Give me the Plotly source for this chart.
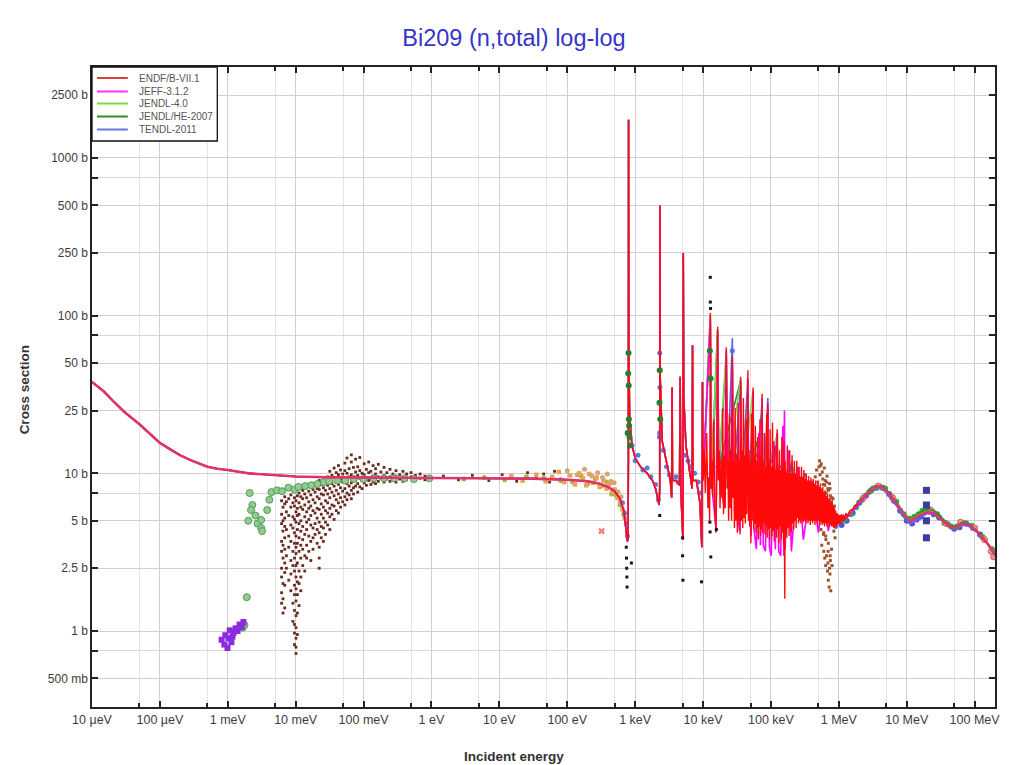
import plotly.graph_objects as go

# ---------------- axis ticks ----------------
x_tick_vals = [1e-5, 1e-4, 1e-3, 1e-2, 1e-1, 1, 10, 100, 1e3, 1e4, 1e5, 1e6, 1e7, 1e8]
x_tick_text = ["10 µeV", "100 µeV", "1 meV", "10 meV", "100 meV", "1 eV", "10 eV",
               "100 eV", "1 keV", "10 keV", "100 keV", "1 MeV", "10 MeV", "100 MeV"]
x_minor_vals = [5e-5, 5e-4, 5e-3, 5e-2, 0.5, 5, 50, 500, 5e3, 5e4, 5e5, 5e6, 5e7]
y_tick_vals = [2500, 1000, 500, 250, 100, 50, 25, 10, 5, 2.5, 1, 0.5]
y_tick_text = ["2500 b", "1000 b", "500 b", "250 b", "100 b", "50 b", "25 b", "10 b",
               "5 b", "2.5 b", "1 b", "500 mb"]
y_minor_vals = [750, 75, 7.5, 0.75]

# ---------------- evaluated data (eV, barns) ----------------
smooth_E = [1e-5, 1.5e-5, 2e-5, 3e-5, 5e-5, 7e-5, 1e-4, 1.5e-4, 2e-4, 3e-4, 5e-4, 7e-4,
            1e-3, 2e-3, 5e-3, 1e-2, 3e-2, 0.1, 0.3, 1, 3, 10, 30, 100, 200, 300, 400, 500]
smooth_xs = [38, 33, 29, 24.5, 20.5, 18, 15.6, 14.0, 13.0, 12.0, 11.0, 10.7,
             10.5, 10.0, 9.7, 9.55, 9.45, 9.4, 9.38, 9.35, 9.33, 9.3, 9.25, 9.1, 8.9, 8.6, 8.2, 7.7]

res_lo_E = [600, 680, 740, 770, 785, 795, 800, 806, 830, 900, 1000, 1200, 1500, 1800, 2000,
            2150, 2250, 2300, 2320, 2340, 2500, 3000, 3300, 3450, 3500, 3550, 4000, 4500, 4600,
            4700, 4900, 5050, 5110, 5200, 5600, 6300, 6900, 7000, 7100, 8000, 9000, 9600, 9800]
res_lo_xs = [6.9, 5.8, 4.4, 3.7, 3.9, 12, 1750, 60, 22, 15, 12.5, 11, 10, 9, 8,
             7, 6.3, 8, 500, 40, 16, 11, 9, 7, 35, 9, 9, 8.4, 41,
             8, 5.5, 3.8, 250, 30, 15, 10.5, 8, 65, 9, 9, 6.5, 3.4, 38]

endf_hi_E = [10000, 10400, 10800, 11300, 11800, 12200, 12500, 12800, 13100, 13500,
             13900, 14400, 14900, 15500, 16000, 16400, 16800, 17300, 17800, 18400,
             19000, 19500, 20000, 20600, 21200, 22000, 22600, 23200, 23800, 24500,
             25100, 25700, 26300, 27000, 27600, 28300, 29000, 29700, 30400, 31200,
             32000, 32800, 33600, 34400, 35100, 35800, 36600, 37500, 38400, 39300,
             40200, 41100, 42000, 43000, 44000, 44800, 45700, 46600, 47600, 48600,
             49600, 50600, 51700, 52800, 53700, 54600, 55600, 56700, 57800, 59000,
             60200, 61400, 62600, 63800, 65100, 66400, 67700, 69000, 70400, 71800,
             73200, 74000, 75400, 76900, 78400, 80000, 81600, 83200, 84800, 86500,
             88200, 90000, 91800, 93600, 95500, 97400, 99300, 101300, 103300, 105400,
             107500, 109600, 111800, 114000, 116300, 118600, 121000, 123400, 125900, 128400,
             131000, 133600, 136300, 139000, 141800, 144600, 147500, 150500, 153500, 155000,
             158000, 160000, 162000, 165000, 168000, 171000, 174500, 178000, 181500, 185000,
             189000, 192500, 196500, 200500, 204500, 208500, 212500, 217000, 221500, 226000,
             230500, 235000, 240000, 245000, 250000, 255000, 260000, 265000, 270500, 276000,
             281500, 287000, 293000, 299000, 305000, 311000, 317500, 324000, 330500, 337000,
             344000, 351000, 358000, 365000, 372500, 380000, 388000, 396000, 404000, 412000,
             420000, 428000, 437000, 446000, 455000, 464000, 474000, 484000, 494000, 504000,
             514000, 524000, 535000, 546000, 557000, 568000, 580000, 592000, 604000, 616000,
             628000, 641000, 654000, 667000, 680000, 694000, 708000, 722000, 737000, 752000,
             767000, 782000, 798000, 814000, 830000, 847000, 864000, 881000, 899000, 917000,
             935000, 954000, 973000, 993000, 1.02e6, 1.05e6, 1.08e6, 1.12e6, 1.16e6, 1.21e6,
             1.27e6, 1.34e6, 1.45e6, 1.6e6, 1.75e6]
endf_hi_xs = [9, 14, 7.5, 18, 6, 9.5, 5, 104, 8, 12,
              7, 22, 6, 4.2, 11, 85, 9, 14, 6, 12,
              7, 26, 5.5, 13, 6, 63, 8, 12, 5, 24,
              6, 14, 5, 55, 7, 12, 4.5, 26, 5, 13,
              4.2, 28, 5, 12, 4.1, 41, 5, 14, 4.5, 30,
              5.2, 13, 4.8, 22, 5.5, 12, 45, 5, 14, 4.6,
              12, 3.6, 24, 5, 11, 35, 4.4, 13, 4.8, 20,
              4.2, 12, 4.5, 17, 3.8, 11, 4.6, 22, 4.0, 13,
              4.4, 32, 4.2, 12, 4.8, 18, 4.1, 11, 4.6, 24,
              3.9, 28, 4.4, 12, 3.8, 19, 4.5, 11, 4.0, 21,
              4.3, 11, 3.7, 15, 4.5, 10.5, 3.9, 19, 4.4, 11,
              3.6, 14, 4.6, 10.5, 3.8, 17, 4.2, 11, 3.5, 16,
              3.8, 1.6, 12, 4.2, 10, 3.9, 15, 4.5, 10, 4.0,
              14, 4.6, 10, 4.2, 13, 4.8, 10, 4.4, 12, 5.0,
              10, 4.5, 12, 5.2, 9.5, 4.8, 11, 5.0, 9.5, 4.8,
              11, 5.1, 9.5, 4.9, 10.5, 5.0, 9.2, 4.8, 10, 5.1,
              9.0, 4.8, 9.6, 5.0, 9, 4.7, 9.4, 5.0, 8.8, 4.8,
              9.2, 5.0, 8.6, 4.7, 9, 5.0, 8.4, 4.8, 8.8, 5.0,
              8.2, 4.7, 8.6, 4.9, 8, 4.7, 8.2, 4.8, 7.6, 4.6,
              7.8, 4.8, 7.2, 4.6, 7.4, 4.8, 6.8, 4.6, 7.0, 4.7,
              6.5, 4.6, 6.6, 4.6, 6.2, 4.5, 6.0, 4.5, 5.8, 4.6,
              5.6, 4.7, 5.5, 4.8, 5.4, 4.8, 5.5, 4.9, 5.5, 5.0,
              5.6, 5.3, 5.8, 5.9, 6.2]

jeff_hi_E = [10000, 12800, 13200, 15500, 16400, 17000, 20500, 22000, 23000, 26000, 27000, 28000,
             34500, 35800, 37000, 43500, 45700, 47000, 51000, 54600, 56000, 61000, 66000, 70000,
             74000, 77000, 83000, 90000, 95000, 101000, 110000, 116000, 123000, 130000, 139000,
             150000, 155000, 158000, 162000, 180000, 200000, 250000, 300000, 400000, 500000,
             600000, 700000, 800000, 900000, 1.0e6, 1.3e6]
jeff_hi_xs = [9, 95, 9, 4.5, 80, 10, 6, 60, 10, 8, 50, 9,
              4.3, 38, 8, 6, 40, 7, 4.0, 33, 4.5, 3.3, 18, 3.5,
              30, 3.5, 3.2, 26, 3.4, 3.0, 16, 3.3, 18, 3.2, 3.0,
              20, 3.0, 25, 3.3, 14, 3.2, 11, 3.8, 9, 4.2,
              7.5, 4.3, 5.8, 4.6, 5.4, 5.2]

tendl_hi_E = [10000, 12800, 13500, 16400, 17000, 22000, 23000, 27000, 28000, 35800, 37000, 45700,
              47000, 54600, 56000, 74000, 76000, 90000, 92000, 123000, 126000, 205000, 210000,
              320000, 330000, 500000, 520000, 800000, 1.0e6, 1.3e6]
tendl_hi_xs = [9, 90, 9, 75, 10, 55, 9.5, 72, 9, 36, 8, 40,
               7, 30, 6, 28, 6, 30, 5.5, 17, 5.5, 12, 5.5,
               10, 6, 8.5, 5.5, 5.2, 5.3, 5.4]

jendl4_hi_E = [10000, 12800, 13200, 16400, 17000, 22000, 23000, 35800, 37000, 54600, 56500, 125000,
               130000, 320000, 340000, 800000, 1.0e6, 1.3e6]
jendl4_hi_xs = [9, 100, 9, 82, 11, 60, 10, 40, 8, 34, 5, 18,
                5, 9.5, 5.5, 5.1, 5.2, 5.3]

jendlhe_hi_E = [10000, 12800, 13200, 16400, 17000, 35800, 37000, 63000, 66000, 210000, 220000,
                800000, 1.0e6, 1.3e6]
jendlhe_hi_xs = [9, 100, 9, 82, 11, 39, 8, 16, 5, 11, 5.5, 5.2, 5.3, 5.35]

fast_E = [1.9e6, 2.65e6, 3.4e6, 4.3e6, 5.2e6, 7.3e6, 9.5e6, 11.4e6, 14.4e6, 20e6, 25.7e6,
          33.5e6, 42.5e6, 52e6, 66e6, 84e6, 110e6, 154e6, 200e6]
endf_fast_xs = [6.4, 7.5, 8.2, 8.2, 7.6, 6.3, 5.3, 5.0, 5.35, 5.7, 5.6,
                5.0, 4.6, 4.5, 4.8, 4.7, 4.25, 3.6, 3.1]
jeff_fast_xs = [6.35, 7.45, 8.2, 8.25, 7.65, 6.3, 5.3, 4.95, 5.3, 5.65, 5.55,
                5.0, 4.6, 4.5, 4.8, 4.7, 4.25, 3.6, 3.1]
tendl_fast_xs = [6.2, 7.4, 8.1, 8.0, 7.4, 6.1, 5.1, 4.75, 5.15, 5.55, 5.5,
                 4.95, 4.55, 4.4, 4.7, 4.6, 4.2, 3.55, 3.0]
jendlhe_fast_xs = [6.5, 7.6, 8.3, 8.3, 7.75, 6.45, 5.45, 5.15, 5.55, 5.95, 5.8,
                   5.15, 4.7, 4.6, 4.9, 4.75, 4.3, 3.6, 3.05]
jendl4_fast_E = [1.9e6, 2.65e6, 3.4e6, 4.3e6, 5.2e6, 7.3e6, 9.5e6, 11.4e6, 14.4e6, 20e6]
jendl4_fast_xs = [6.4, 7.5, 8.15, 8.15, 7.6, 6.35, 5.35, 5.05, 5.4, 5.75]

# ---------------- experimental data (eV, barns) ----------------
brown_col_E = [6.2e-3, 6.5e-3, 6.9e-3, 7.3e-3, 7.9e-3, 8.5e-3, 9.1e-3, 9.6e-3, 0.0101, 0.0106,
               0.0112, 0.0119, 0.0127, 0.0136, 0.0145, 0.0156, 0.0167, 0.018, 0.0193, 0.0207,
               0.0222, 0.0238, 0.0256, 0.0275, 0.0296, 0.0318, 0.0342, 0.0368, 0.0396, 0.0426,
               0.0458, 0.0493, 0.053, 0.057, 0.0613, 0.066, 0.071, 0.0763, 0.082, 0.088, 0.095,
               0.102, 0.11, 0.119, 0.128, 0.138, 0.15, 0.165, 0.18, 0.2, 0.22, 0.245, 0.27, 0.3,
               0.34, 0.38, 0.43, 0.5, 0.58, 0.68, 0.8,
               1.5, 2.5, 4, 7, 11, 18, 26, 35, 45, 55, 65, 80]
brown_col_xs = [
    [6.7, 5.5, 4.8, 3.7, 3.2, 2.5, 2.2, 1.75, 1.5],
    [6.1, 5.0, 4.3, 3.5, 2.9, 2.0, 1.6, 1.3],
    [7.1, 6.4, 5.2, 4.6, 3.9, 3.3, 2.7, 2.35, 1.95, 1.4],
    [6.6, 5.7, 4.4, 3.0, 2.5],
    [6.9, 5.4, 4.0, 3.4, 2.1],
    [7.3, 6.1, 4.7, 3.7, 2.8, 2.3, 1.8],
    [6.5, 5.3, 4.5, 3.2, 2.6, 1.5, 1.15],
    [7.0, 6.2, 5.1, 4.2, 3.6, 2.9, 2.4, 1.95, 1.7, 1.35, 1.1, 0.97, 0.82],
    [6.7, 5.7, 4.9, 4.0, 3.4, 3.1, 2.6, 2.2, 1.85, 1.55, 1.25, 1.05, 0.9, 0.79, 0.72],
    [7.2, 6.0, 5.4, 4.4, 3.6, 2.7, 2.05, 1.7, 1.3, 0.95],
    [7.5, 6.5, 5.5, 4.8, 3.9, 3.2, 2.4, 2.0, 1.45],
    [7.1, 6.1, 5.0, 4.3, 3.5, 2.9, 2.2, 1.8],
    [7.8, 6.9, 5.9, 4.6, 3.8, 3.3, 2.6],
    [7.4, 6.3, 5.3, 4.1, 3.0, 2.4],
    [8.1, 7.0, 5.7, 4.9, 4.4, 3.5, 2.9],
    [7.7, 6.6, 6.0, 5.1, 4.0, 3.2],
    [8.3, 7.3, 6.2, 5.4, 4.7, 3.7, 2.8],
    [7.9, 6.8, 5.8, 4.5, 3.9, 3.3],
    [8.6, 7.6, 6.5, 5.6, 4.8, 4.1],
    [8.0, 7.1, 6.0, 5.2, 4.4, 3.6],
    [9.0, 7.9, 6.9, 5.9, 4.9, 4.2, 3.4, 2.9, 2.5],
    [8.5, 7.4, 6.4, 5.5, 4.6, 3.9],
    [9.2, 8.1, 7.3, 6.1, 5.2, 4.5, 3.7],
    [8.7, 7.8, 6.7, 5.8, 4.9, 4.1],
    [9.5, 8.4, 7.4, 6.5, 5.6, 4.7],
    [10.3, 9.0, 8.0, 7.0, 6.0, 5.3, 4.4],
    [9.7, 8.6, 7.6, 6.3, 5.5],
    [10.8, 9.4, 8.3, 7.2, 6.2, 5.1],
    [10.1, 8.9, 7.8, 6.8, 5.8],
    [11.2, 9.8, 8.5, 7.4, 6.5, 5.6],
    [10.5, 9.2, 8.1, 7.0, 6.1],
    [9.9, 8.8, 7.7, 6.6],
    [11.6, 10.4, 9.0, 8.0, 7.1, 6.3],
    [12.5, 10.0, 8.6, 7.5, 6.8],
    [10.7, 9.5, 8.3, 7.3],
    [13.1, 11.8, 9.8, 8.7, 7.8, 6.9],
    [10.9, 9.3, 8.1, 7.4],
    [12.3, 10.2, 9.0, 8.3],
    [11.0, 9.7, 8.6, 7.6],
    [12.6, 10.4, 9.3, 8.2],
    [10.0, 9.0, 8.0],
    [11.5, 9.8, 8.7],
    [10.6, 9.4, 8.4],
    [11.8, 10.1, 9.0],
    [10.3, 9.2, 8.5],
    [11.2, 9.6, 8.8],
    [10.7, 9.9, 8.6],
    [11.4, 9.5, 8.9],
    [10.2, 9.3],
    [10.9, 9.7, 8.8],
    [10.1, 9.2],
    [10.6, 9.5, 8.9],
    [9.9, 9.1],
    [10.4, 9.6, 8.8],
    [9.8, 9.2],
    [10.3, 9.4, 8.9],
    [9.9, 9.1],
    [10.1, 9.5],
    [9.7, 9.0],
    [9.9, 9.3],
    [9.6, 9.1],
    [9.6], [9.1], [9.7], [9.0], [9.8], [8.9], [10.1], [9.3], [9.9], [8.8], [10.3], [9.2],
]

green_lo_E = [2.1e-3, 2.3e-3, 2.2e-3, 2.55e-3, 2.0e-3, 2.75e-3, 3.1e-3, 3.1e-3, 3.2e-3, 4.1e-3,
              3.8e-3, 4.4e-3, 5.3e-3, 6.3e-3, 7.8e-3, 9.6e-3, 0.011, 0.0138, 0.017, 0.021, 0.026,
              0.031, 0.041, 0.054, 0.072, 0.1, 0.14, 0.2, 0.28, 0.4, 0.55, 0.93, 1.9e-3, 1.76e-3,
              1.65e-3]
green_lo_xs = [7.5, 6.3, 5.85, 5.4, 5.0, 4.8, 5.06, 4.5, 4.3, 6.8,
               5.85, 7.6, 7.8, 7.7, 8.1, 7.9, 8.2, 8.3, 8.4, 8.55, 8.8,
               8.9, 9.0, 9.0, 9.2, 9.2, 9.3, 9.3, 9.3, 9.3, 9.2, 9.3, 1.64, 1.09,
               1.05]

purple_E = [8.1e-4, 8.9e-4, 9.2e-4, 1.02e-3, 1.07e-3, 1.13e-3, 1.21e-3, 1.3e-3, 1.39e-3,
            1.49e-3, 1.6e-3, 1.7e-3, 9.9e-4, 1.17e-3]
purple_xs = [0.88, 0.82, 0.94, 0.90, 1.01, 0.85, 0.97, 1.04, 1.0, 1.1, 1.06, 1.14, 0.78, 0.92]

orange_E = [15, 22, 35, 48, 60, 75, 90, 110, 130, 150, 170, 190, 210, 240, 270, 300, 340, 380,
            420, 460, 500, 550, 600, 650, 700]
orange_xs = [9.6, 9.0, 9.8, 8.9, 9.5, 10.2, 8.8, 9.7, 8.5, 10.0, 9.3, 8.4, 9.9, 8.7, 9.4, 8.2,
             9.0, 8.0, 8.6, 7.6, 7.9, 7.0, 6.6, 5.9, 5.2]
olive_E = [3, 6, 12, 25, 45, 80, 120, 160, 200, 260, 320, 380, 450, 520, 600, 680]
olive_xs = [9.2, 9.4, 9.1, 9.5, 9.3, 9.0, 8.8, 9.6, 8.6, 9.2, 8.3, 8.8, 7.4, 7.3, 6.3, 5.5]
tan_E = [100, 140, 180, 230, 280, 330, 390, 440, 490, 560, 620]
tan_xs = [10.4, 9.8, 10.6, 9.6, 10.1, 9.4, 9.9, 8.9, 8.7, 7.6, 7.1]
cross_E = [320]
cross_xs = [4.3]

res_blue_E = [650, 700, 740, 770, 900, 1000, 1100, 1300, 1500, 1700, 2000, 2200, 2280, 2290, 2300,
              2310, 2600, 2900, 3200, 4000, 4300, 5500, 6000, 6500, 7500, 8500, 9000, 11000, 14000,
              18000, 21000, 24000, 27000, 30000, 36000, 42000, 50000, 60000, 70000, 85000, 100000,
              130000, 170000, 220000, 300000, 400000, 500000, 700000, 900000]
res_blue_xs = [6.5, 5.6, 4.8, 4.0, 15, 12, 13, 10.5, 10.8, 9.5, 8.5, 6.8, 17, 18, 58,
               35, 14, 11, 9.8, 9.5, 8.8, 13, 12, 11, 10, 8.8, 7.5, 10, 11,
               12, 10, 11, 60, 13, 10, 12, 11, 13, 12, 14, 12,
               11, 10, 9.5, 8, 7, 6.5, 5.5, 4.6]

dkgreen_E = [775, 790, 798, 803, 808, 815, 825, 840, 2280, 2300, 2340, 12600, 12900]
dkgreen_xs = [18, 43, 58, 36, 22, 20, 17, 15, 28, 45, 22, 60, 40]

black_E = [740, 745, 750, 755, 760, 880, 2300, 5000, 5000, 5050, 9500, 12800, 12800, 12900,
           12600, 12700, 13000, 15700]
black_xs = [3.4, 2.9, 2.5, 2.2, 1.9, 2.7, 5.4, 3.9, 3.0, 2.1, 2.05, 175, 122, 111, 4.9, 4.25,
            2.95, 4.4]

brown_hi_E = [450e3, 470e3, 490e3, 510e3, 530e3, 550e3, 570e3, 590e3, 610e3, 630e3, 650e3, 670e3,
              690e3, 710e3, 730e3, 750e3, 770e3, 790e3, 810e3, 830e3, 850e3, 870e3, 900e3, 560e3,
              600e3, 620e3, 640e3, 660e3, 680e3, 700e3, 720e3, 740e3, 760e3, 640e3, 700e3, 750e3,
              780e3, 600e3, 520e3, 540e3, 580e3, 620e3, 660e3, 700e3, 740e3, 780e3, 820e3, 860e3,
              500e3, 545e3, 595e3, 645e3, 695e3, 745e3, 795e3, 845e3, 880e3, 690e3, 730e3]
brown_hi_xs = [9.5, 10.5, 8.8, 11.0, 9.8, 11.5, 10.2, 8.5, 10.8, 9.0, 7.5, 9.6,
               8.0, 6.8, 8.6, 7.2, 6.2, 7.0, 5.6, 6.0, 5.2, 5.5, 4.8, 3.5,
               3.2, 2.9, 2.6, 3.0, 2.4, 2.1, 1.9, 2.3, 1.8, 4.0, 3.6, 2.8,
               3.3, 4.2, 12.0, 11.2, 9.2, 8.4, 8.8, 7.8, 8.0, 6.6, 6.9, 6.2,
               4.6, 4.4, 4.1, 3.8, 3.2, 3.0, 2.6, 4.3, 3.9, 2.7, 2.5]

fast_blue_E = [1.1e6, 1.3e6, 1.6e6, 2.0e6, 2.5e6, 3.0e6, 3.6e6, 4.4e6, 5.5e6, 6.5e6, 8.0e6, 10e6,
               12e6, 14e6, 16e6, 25e6, 30e6, 40e6, 50e6, 60e6, 75e6, 95e6, 120e6]
fast_blue_xs = [4.7, 5.0, 5.6, 6.5, 7.2, 7.8, 8.1, 8.1, 7.4, 6.7, 5.8, 5.0,
                4.8, 5.1, 5.3, 5.5, 5.25, 4.75, 4.45, 4.55, 4.8, 4.5, 4.1]
fast_green_E = [1.2e6, 1.5e6, 1.8e6, 2.2e6, 2.8e6, 3.2e6, 3.9e6, 4.8e6, 6.0e6, 7.0e6, 9.0e6, 11e6,
                13e6, 15e6, 17e6, 19e6, 22e6, 28e6, 36e6, 45e6, 55e6, 70e6, 90e6, 130e6, 180e6]
fast_green_xs = [5.1, 5.5, 6.1, 6.8, 7.6, 8.0, 8.3, 8.0, 7.1, 6.6, 5.5, 5.15,
                 5.3, 5.5, 5.8, 5.95, 5.9, 5.5, 4.85, 4.6, 4.6, 4.85, 4.65, 3.95, 3.3]
fast_pink_E = [2.3e6, 3.8e6, 6.2e6, 12.5e6, 23e6, 38e6, 62e6, 100e6, 140e6, 175e6, 190e6]
fast_pink_xs = [7.0, 8.3, 7.0, 5.1, 5.8, 4.8, 4.9, 4.5, 3.8, 3.2, 2.95]
navy_E = [19.5e6, 19.5e6, 19.5e6, 19.5e6]
navy_xs = [7.8, 6.3, 5.0, 3.9]

# ---------------- figure ----------------
fig = go.Figure()


def pts(E, xs, color, symbol="circle", size=4, line=None, opacity=1.0):
    mk = dict(color=color, symbol=symbol, size=size, line=line or dict(width=0))
    fig.add_trace(go.Scatter(x=E, y=xs, mode="markers", marker=mk, opacity=opacity,
                             showlegend=False, hoverinfo="skip"))


def curve(E, xs, color, width=1.5):
    fig.add_trace(go.Scatter(x=E, y=xs, mode="lines", line=dict(color=color, width=width),
                             showlegend=False, hoverinfo="skip"))


bE, bX = [], []
for e, col in zip(brown_col_E, brown_col_xs):
    for v in col:
        bE.append(e)
        bX.append(v)
pts(bE, bX, "#6b2a1f", "square", 2.8)
pts(green_lo_E, green_lo_xs, "#8fcc8f", "circle", 7, dict(color="#5a9a5a", width=1))
pts(purple_E, purple_xs, "#8a2be2", "square", 6)
pts(olive_E, olive_xs, "#9ab83a", "circle", 5)
pts(orange_E, orange_xs, "#f0a050", "square", 4.5)
pts(tan_E, tan_xs, "#d2a679", "circle", 5)
pts(res_blue_E, res_blue_xs, "#4f7fe0", "circle", 5)
pts(brown_hi_E, brown_hi_xs, "#a0522d", "square", 3)
pts(fast_blue_E, fast_blue_xs, "#5a50d0", "circle", 6)
pts(fast_green_E, fast_green_xs, "#2fae2f", "circle", 6)
pts(fast_pink_E, fast_pink_xs, "#ff8a8a", "circle", 6, dict(color="#e06060", width=1))

lo_E = smooth_E + res_lo_E
lo_xs = smooth_xs + res_lo_xs
curve(lo_E + tendl_hi_E + fast_E, lo_xs + tendl_hi_xs + tendl_fast_xs, "#5566ee", 1.6)
curve(lo_E + jendlhe_hi_E + fast_E, lo_xs + jendlhe_hi_xs + jendlhe_fast_xs, "#2e8b2e", 1.6)
curve(lo_E + jendl4_hi_E + jendl4_fast_E, lo_xs + jendl4_hi_xs + jendl4_fast_xs, "#77dd44", 1.6)
curve(lo_E + jeff_hi_E + fast_E, lo_xs + jeff_hi_xs + jeff_fast_xs, "#ff00ff", 1.6)
curve(smooth_E, smooth_xs, "#e0336b", 2.6)
curve(smooth_E[-1:] + res_lo_E + endf_hi_E + fast_E[:1],
      smooth_xs[-1:] + res_lo_xs + endf_hi_xs + endf_fast_xs[:1], "#ff0a0a", 1.4)
curve(fast_E, endf_fast_xs, "#e8345f", 2.2)

pts(dkgreen_E, dkgreen_xs, "#2f7a2f", "circle", 6)
pts(black_E, black_xs, "#151515", "square", 3)
pts(cross_E, cross_xs, "#f08070", "x", 6)
pts(navy_E, navy_xs, "#3c3ca0", "square", 7)

# ---------------- layout ----------------
W, H = 1012, 765
L, R, T, B = 92, 12, 67, 58
pw, ph = W - L - R, H - T - B


def px_x(x):
    return (x - L) / pw


def px_y(y):
    return (H - B - y) / ph


fig.update_layout(
    width=W, height=H,
    margin=dict(l=L, r=R, t=T, b=B),
    paper_bgcolor="white", plot_bgcolor="white",
    showlegend=False,
    font=dict(family="Liberation Sans, Arial, sans-serif", size=12, color="#3c3c3c"),
    title=dict(text="Bi209 (n,total) log-log", x=514 / W, xanchor="center",
               y=1 - 38 / H, yanchor="middle",
               font=dict(size=23.5, color="#3535c8")),
)
axis_common = dict(
    type="log", showline=True, linecolor="#222", linewidth=1.5, mirror="ticks",
    ticks="inside", ticklen=6, tickwidth=1.5, tickcolor="#222",
    showgrid=True, gridcolor="#d0d0d0", gridwidth=1, zeroline=False,
)
fig.update_xaxes(
    range=[-5, 8.30], tickmode="array", tickvals=x_tick_vals, ticktext=x_tick_text,
    tickfont=dict(size=12.5),
    minor=dict(tickmode="array", tickvals=x_minor_vals, ticks="inside", ticklen=4,
               tickcolor="#222", showgrid=True, gridcolor="#e4e4e4"),
    **axis_common,
)
fig.update_yaxes(
    range=[-0.482, 3.577], tickmode="array", tickvals=y_tick_vals, ticktext=y_tick_text,
    tickfont=dict(size=12),
    minor=dict(tickmode="array", tickvals=y_minor_vals, ticks="inside", ticklen=6,
               tickcolor="#222", showgrid=True, gridcolor="#d8d8d8"),
    **axis_common,
)

annotations = [
    dict(text="<b>Incident energy</b>", x=px_x(516), y=px_y(756), xref="paper", yref="paper",
         showarrow=False, xanchor="center", yanchor="middle",
         font=dict(size=13.5, color="#333333")),
    dict(text="<b>Cross section</b>", x=px_x(24), y=px_y(390), xref="paper", yref="paper",
         showarrow=False, xanchor="center", yanchor="middle", textangle=-90,
         font=dict(size=13.5, color="#333333")),
]

legend_names = ["ENDF/B-VII.1", "JEFF-3.1.2", "JENDL-4.0", "JENDL/HE-2007", "TENDL-2011"]
legend_colors = ["#d9403c", "#ff33ff", "#77dd44", "#2e8b2e", "#6677dd"]
legend_rows_px = [78, 91.5, 103.5, 116.5, 129.5]
shapes = [dict(type="rect", xref="paper", yref="paper", x0=px_x(92), x1=px_x(218),
               y0=px_y(141), y1=px_y(67), line=dict(color="#111", width=1.3),
               fillcolor="white", layer="above")]
for name, col, ry in zip(legend_names, legend_colors, legend_rows_px):
    shapes.append(dict(type="line", xref="paper", yref="paper", x0=px_x(97), x1=px_x(128),
                       y0=px_y(ry), y1=px_y(ry), line=dict(color=col, width=2), layer="above"))
    annotations.append(dict(text=name, x=px_x(137), y=px_y(ry), xref="paper", yref="paper",
                            showarrow=False, xanchor="left", yanchor="middle",
                            font=dict(size=10, color="#555555")))

fig.update_layout(shapes=shapes, annotations=annotations)
fig.write_html("out.html")
